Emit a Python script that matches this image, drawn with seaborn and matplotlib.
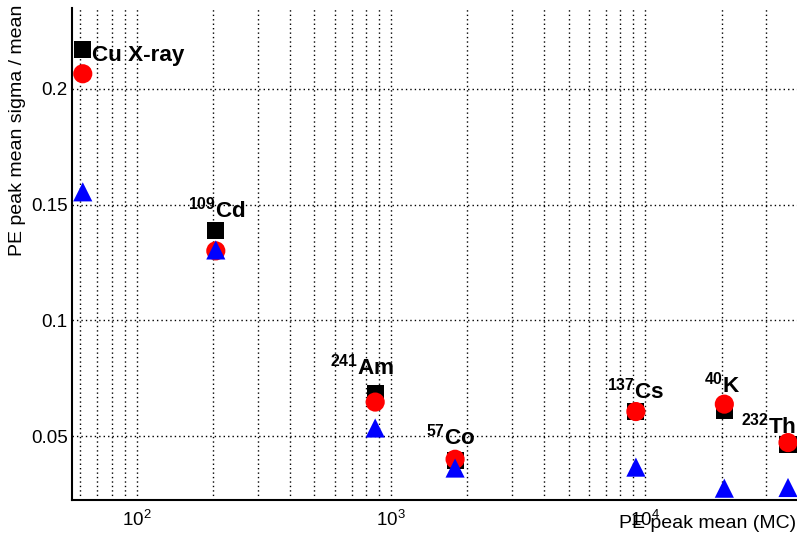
import numpy as np
import pandas as pd
import matplotlib
matplotlib.use("Agg")
import matplotlib.pyplot as plt
import seaborn as sns
from matplotlib.ticker import LogLocator, NullFormatter, MultipleLocator, FixedLocator, FixedFormatter

# ---- data ----
sources = ["Cu X-ray", "$^{109}$Cd", "$^{241}$Am", "$^{57}$Co", "$^{137}$Cs", "$^{40}$K", "$^{232}$Th"]
pe_mean = [61.3, 204.6, 867, 1788, 9200, 20500, 36500]
sigma_black = [0.2169, 0.1386, 0.0682, 0.0396, 0.0606, 0.0612, 0.0465]
sigma_red = [0.2065, 0.1300, 0.0647, 0.0400, 0.0606, 0.0638, 0.0472]
sigma_blue = [0.1555, 0.1304, 0.0535, 0.0362, 0.0366, 0.0275, 0.0278]
y_ticks = [0.05, 0.1, 0.15, 0.2]
y_ticklabels = ["0.05", "0.1", "0.15", "0.2"]

# label offsets in pixels (relative to black square)
label_offsets = [(9, -11), (-28, 13), (-45, 19), (-29, 16), (-29, 13), (-20, 18), (-47, 11)]

sns.set_style("white")
plt.rcParams["font.family"] = ["Liberation Sans", "DejaVu Sans"]
plt.rcParams["mathtext.fontset"] = "custom"
plt.rcParams["mathtext.rm"] = "Liberation Sans"
plt.rcParams["mathtext.it"] = "Liberation Sans:italic"
plt.rcParams["mathtext.bf"] = "Liberation Sans:bold"
for k in ["text.color", "axes.labelcolor", "xtick.color", "ytick.color", "axes.edgecolor"]:
    plt.rcParams[k] = "black"

df = pd.DataFrame({"x": pe_mean, "black": sigma_black, "red": sigma_red, "blue": sigma_blue})

fig = plt.figure(figsize=(7.97, 5.47), dpi=100)
W, H = 797, 547
ax = fig.add_axes([72 / W, (H - 500) / H, (797 - 72) / W, (500 - 8) / H])

ax.set_xscale("log")
ax.set_xlim(55.6, 39600)
ax.set_ylim(0.0224, 0.2349)

grid_kw = dict(color="black", linestyle=(0, (1, 2.2)), linewidth=1.0, zorder=0)
ax.grid(False)
ax.xaxis.set_major_locator(LogLocator(base=10, numticks=10))
ax.xaxis.set_minor_locator(LogLocator(base=10, subs=np.arange(2, 10), numticks=20))
ax.xaxis.set_minor_formatter(NullFormatter())
ax.grid(True, which="both", axis="x", **grid_kw)
ax.yaxis.set_major_locator(FixedLocator(y_ticks))
ax.yaxis.set_major_formatter(FixedFormatter(y_ticklabels))
ax.yaxis.set_minor_locator(MultipleLocator(0.01))
ax.grid(True, which="major", axis="y", **grid_kw)
ax.set_axisbelow(True)

sns.scatterplot(data=df, x="x", y="black", ax=ax, marker="s", color="black", s=150,
                edgecolor="none", zorder=3, legend=False)
sns.scatterplot(data=df, x="x", y="red", ax=ax, marker="o", color="#ff0000", s=190,
                edgecolor="none", zorder=4, legend=False)
sns.scatterplot(data=df, x="x", y="blue", ax=ax, marker="^", color="#0000ff", s=190,
                edgecolor="none", zorder=5, legend=False)

for name, xv, yv, (dx, dy) in zip(sources, pe_mean, sigma_black, label_offsets):
    if name.startswith("$"):
        parts = name.split("$")
        txt = r"$\mathbf{" + parts[1] + r"}$" + parts[2]
    else:
        txt = name
    ax.annotate(txt, xy=(xv, yv), xytext=(dx, dy), textcoords="offset pixels",
                ha="left", va="baseline", fontsize=16.2, fontweight="bold", zorder=6,
                annotation_clip=False)

ax.set_xlabel("")
ax.set_ylabel("")
fig.text(18 / W, 1 - 5 / H, "PE peak mean sigma / mean", rotation=90, ha="center", va="top",
         fontsize=14)
fig.text(796 / W, 1 - 523 / H, "PE peak mean (MC)", ha="right", va="center", fontsize=14)

for s in ["top", "right"]:
    ax.spines[s].set_visible(False)
for s in ["left", "bottom"]:
    ax.spines[s].set_linewidth(1.5)
    ax.spines[s].set_color("black")

ax.tick_params(axis="x", which="major", direction="in", length=10.8, width=1.2, labelsize=13.5, pad=7)
ax.tick_params(axis="x", which="minor", direction="in", length=5.4, width=1.0)
ax.tick_params(axis="y", which="major", direction="in", length=15.8, width=1.2, labelsize=13.5, pad=3)
ax.tick_params(axis="y", which="minor", direction="in", length=7.9, width=1.0)

fig.savefig("out.png", dpi=100)
